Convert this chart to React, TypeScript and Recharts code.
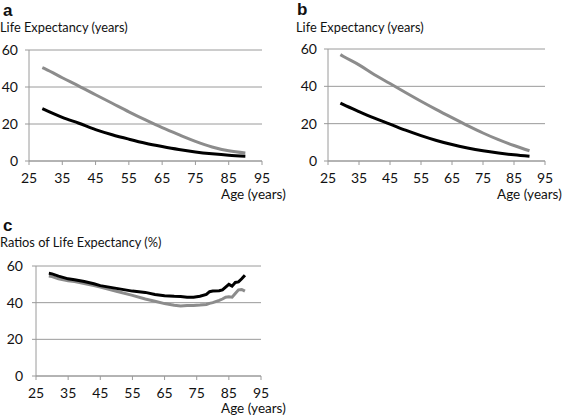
import { LineChart, Line, XAxis, YAxis, CartesianGrid } from "recharts";

const ageTicks = [25, 35, 45, 55, 65, 75, 85, 95];
const valueTicks = [0, 20, 40, 60];

// panels a and b share the same ages
const ages = [29, 30, 35, 40, 45, 50, 55, 60, 65, 70, 75, 80, 85, 90];
const aGrey = [50.5, 49.7, 45, 40.5, 35.8, 31.2, 26.6, 22.2, 18, 14.2, 10.6, 7.6, 5.5, 4.3];
const aBlack = [28.3, 27.5, 23.6, 20.4, 17, 14.2, 11.8, 9.6, 7.8, 6.2, 4.9, 3.9, 3.1, 2.6];
const bGrey = [57, 56, 51.5, 46.2, 41.5, 36.7, 32, 27.5, 23.2, 19, 15, 11.4, 8.3, 5.5];
const bBlack = [31, 30.2, 26.5, 23, 19.8, 16.5, 13.6, 11, 8.8, 7, 5.5, 4.3, 3.3, 2.5];

// panel c ratios
const ratioAges = [29, 30, 32, 35, 37, 40, 43, 45, 50, 55, 59, 62, 65, 68, 70, 72, 74, 76, 78, 79, 80, 82, 83, 84, 85, 86, 87, 88, 89, 90];
const cBlack = [56, 55.7, 54.5, 53, 52.5, 51.5, 50.3, 49.3, 47.8, 46.3, 45.6, 44.5, 43.8, 43.5, 43.4, 43, 43, 43.5, 44.5, 46, 46.3, 46.5, 47, 48.5, 50, 49, 51, 51.3, 53, 55];
const cGrey = [54.5, 54.2, 53, 52, 51.5, 50.5, 49.3, 48.5, 46.2, 44, 42, 40.8, 39.5, 38.6, 38.2, 38.5, 38.5, 38.7, 39, 39.6, 40, 41.2, 42, 43, 43.2, 43, 45, 47, 47.2, 46.3];

const rowsA = ages.map((age, i) => ({ age, grey: aGrey[i], black: aBlack[i] }));
const rowsB = ages.map((age, i) => ({ age, grey: bGrey[i], black: bBlack[i] }));
const rowsC = ratioAges.map((age, i) => ({ age, grey: cGrey[i], black: cBlack[i] }));

const FONT = "Lato, 'Open Sans', sans-serif";
const GRID = "#9a9a9a";
const tickStyle = { fontSize: 14, fill: "#111", fontFamily: FONT };

const Panel = ({ data, left, top, width, height, yWidth, yMargin, lineType }: any) => (
  <div style={{ position: "absolute", left, top }}>
    <LineChart width={width} height={height} data={data} margin={{ top: 10, right: 8, left: 0, bottom: 0 }}>
      <CartesianGrid vertical={false} stroke={GRID} strokeWidth={1} />
      <XAxis
        dataKey="age"
        type="number"
        domain={[25, 95]}
        ticks={ageTicks}
        height={30}
        tickSize={4}
        tickMargin={8}
        stroke={GRID}
        tick={tickStyle}
        interval={0}
      />
      <YAxis
        type="number"
        domain={[0, 60]}
        ticks={valueTicks}
        width={yWidth}
        tickSize={4}
        tickMargin={yMargin}
        stroke={GRID}
        tick={tickStyle}
        interval={0}
      />
      <Line dataKey="grey" type={lineType} stroke="#8c8c8c" strokeWidth={3} dot={false} isAnimationActive={false} />
      <Line dataKey="black" type={lineType} stroke="#000" strokeWidth={3} dot={false} isAnimationActive={false} />
    </LineChart>
  </div>
);

const Text = ({ children, left, top, size = 13, bold = false }: any) => (
  <div
    style={{
      position: "absolute",
      left,
      top,
      fontSize: size,
      fontWeight: bold ? 700 : 400,
      fontFamily: bold ? "'Liberation Sans', Arial, sans-serif" : FONT,
      color: "#111",
      whiteSpace: "nowrap",
      lineHeight: 1,
    }}
  >
    {children}
  </div>
);

export default function App() {
  return (
    <div style={{ position: "absolute", left: 0, top: 0, width: 567, height: 417, background: "#fff", overflow: "hidden" }}>
      <Text left={3} top={2} size={17} bold>a</Text>
      <Text left={0} top={21} size={12.8}>Life Expectancy (years)</Text>
      <Panel data={rowsA} left={0} top={40} width={270} height={151} yWidth={29} yMargin={7} lineType="monotone" />
      <Text left={221} top={188} size={13.5}>Age (years)</Text>

      <Text left={297} top={1} size={17} bold>b</Text>
      <Text left={296} top={21} size={12.8}>Life Expectancy (years)</Text>
      <Panel data={rowsB} left={299} top={39} width={254} height={152} yWidth={29} yMargin={7} lineType="monotone" />
      <Text left={497} top={188} size={13.5}>Age (years)</Text>

      <Text left={3} top={217} size={17} bold>c</Text>
      <Text left={0} top={236} size={12.8}>Ratios of Life Expectancy (%)</Text>
      <Panel data={rowsC} left={0} top={256} width={269} height={150} yWidth={36} yMargin={9} lineType="linear" />
      <Text left={221} top={402} size={13.5}>Age (years)</Text>
    </div>
  );
}
